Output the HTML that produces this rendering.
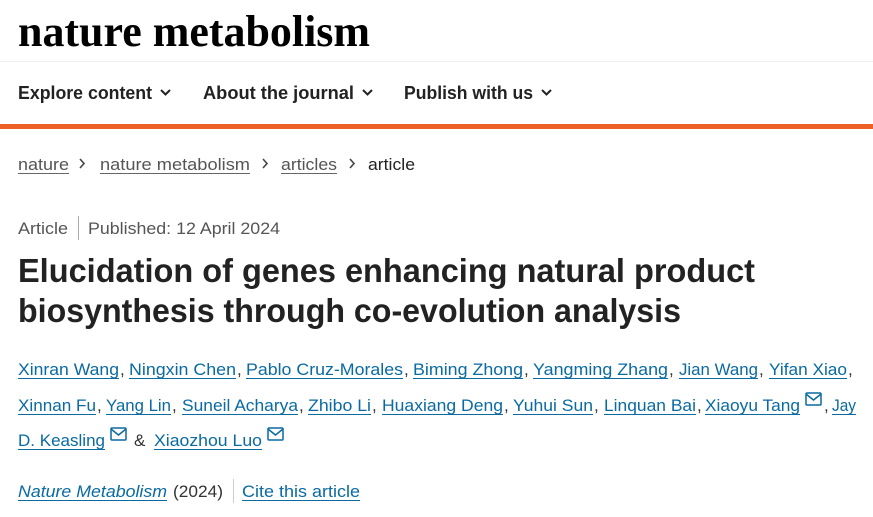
<!DOCTYPE html>
<html><head><meta charset="utf-8"><style>
html,body{margin:0;padding:0;background:#fff;width:873px;height:517px;overflow:hidden}
svg{display:block}
.s{font-family:"Liberation Sans",sans-serif}
.lk{fill:#0a6aa1;font-size:17px}
.gr{fill:#333;font-size:17px}
</style></head><body>
<svg width="873" height="517" viewBox="0 0 873 517" xmlns="http://www.w3.org/2000/svg">
<rect width="873" height="517" fill="#fff"/>
<text x="18" y="46" font-family="Liberation Serif,serif" font-weight="bold" font-size="44" fill="#000" textLength="352" lengthAdjust="spacingAndGlyphs">nature metabolism</text>
<line x1="0" y1="61.5" x2="873" y2="61.5" stroke="#eee"/>
<g class="s" font-weight="bold" font-size="18" fill="#222">
<text x="18" y="99" textLength="134" lengthAdjust="spacingAndGlyphs">Explore content</text>
<text x="203" y="99" textLength="151" lengthAdjust="spacingAndGlyphs">About the journal</text>
<text x="404" y="99" textLength="129" lengthAdjust="spacingAndGlyphs">Publish with us</text>
</g>
<g fill="none" stroke="#222" stroke-width="2">
<polyline points="161,90 165.5,94.5 170,90"/>
<polyline points="363,90 367.5,94.5 372,90"/>
<polyline points="542,90 546.5,94.5 551,90"/>
</g>
<rect x="0" y="124" width="873" height="5" fill="#ee6025"/>
<g class="s" font-size="17">
<text x="18" y="170" fill="#555" textLength="51" lengthAdjust="spacingAndGlyphs">nature</text>
<text x="100" y="170" fill="#555" textLength="150" lengthAdjust="spacingAndGlyphs">nature metabolism</text>
<text x="281" y="170" fill="#555" textLength="56" lengthAdjust="spacingAndGlyphs">articles</text>
<text x="368" y="170" fill="#222" textLength="47" lengthAdjust="spacingAndGlyphs">article</text>
</g>
<g stroke="#666" stroke-width="1">
<line x1="18" y1="173.5" x2="69" y2="173.5"/><line x1="100" y1="173.5" x2="250" y2="173.5"/><line x1="281" y1="173.5" x2="337" y2="173.5"/>
</g>
<g fill="none" stroke="#444" stroke-width="1.6">
<polyline points="80,159 84,163.5 80,168"/><polyline points="263,159 267,163.5 263,168"/><polyline points="350,159 354,163.5 350,168"/>
</g>
<g class="s" font-size="17" fill="#555">
<text x="18" y="234" textLength="50" lengthAdjust="spacingAndGlyphs">Article</text>
<text x="88" y="234" textLength="192" lengthAdjust="spacingAndGlyphs">Published: 12 April 2024</text>
</g>
<line x1="78.5" y1="216" x2="78.5" y2="240" stroke="#aaa"/>
<g class="s" font-weight="bold" font-size="33" fill="#222">
<text x="18" y="282" textLength="737" lengthAdjust="spacingAndGlyphs">Elucidation of genes enhancing natural product</text>
<text x="18" y="322" textLength="663" lengthAdjust="spacingAndGlyphs">biosynthesis through co-evolution analysis</text>
</g>
<g class="s">
<!-- line 1 -->
<text class="lk" x="18" y="375" textLength="101" lengthAdjust="spacingAndGlyphs">Xinran Wang</text><text class="gr" x="120" y="375">,</text>
<text class="lk" x="129" y="375" textLength="107" lengthAdjust="spacingAndGlyphs">Ningxin Chen</text><text class="gr" x="237" y="375">,</text>
<text class="lk" x="246" y="375" textLength="157" lengthAdjust="spacingAndGlyphs">Pablo Cruz-Morales</text><text class="gr" x="404" y="375">,</text>
<text class="lk" x="413" y="375" textLength="110" lengthAdjust="spacingAndGlyphs">Biming Zhong</text><text class="gr" x="524" y="375">,</text>
<text class="lk" x="533" y="375" textLength="135" lengthAdjust="spacingAndGlyphs">Yangming Zhang</text><text class="gr" x="669" y="375">,</text>
<text class="lk" x="679" y="375" textLength="79" lengthAdjust="spacingAndGlyphs">Jian Wang</text><text class="gr" x="759" y="375">,</text>
<text class="lk" x="769" y="375" textLength="78" lengthAdjust="spacingAndGlyphs">Yifan Xiao</text><text class="gr" x="848" y="375">,</text>
<!-- line 2 -->
<text class="lk" x="18" y="411" textLength="78" lengthAdjust="spacingAndGlyphs">Xinnan Fu</text><text class="gr" x="97" y="411">,</text>
<text class="lk" x="106" y="411" textLength="65" lengthAdjust="spacingAndGlyphs">Yang Lin</text><text class="gr" x="172" y="411">,</text>
<text class="lk" x="182" y="411" textLength="116" lengthAdjust="spacingAndGlyphs">Suneil Acharya</text><text class="gr" x="299" y="411">,</text>
<text class="lk" x="308" y="411" textLength="63" lengthAdjust="spacingAndGlyphs">Zhibo Li</text><text class="gr" x="372" y="411">,</text>
<text class="lk" x="382" y="411" textLength="121" lengthAdjust="spacingAndGlyphs">Huaxiang Deng</text><text class="gr" x="504" y="411">,</text>
<text class="lk" x="513" y="411" textLength="80" lengthAdjust="spacingAndGlyphs">Yuhui Sun</text><text class="gr" x="594" y="411">,</text>
<text class="lk" x="604" y="411" textLength="92" lengthAdjust="spacingAndGlyphs">Linquan Bai</text><text class="gr" x="697" y="411">,</text>
<text class="lk" x="705" y="411" textLength="95" lengthAdjust="spacingAndGlyphs">Xiaoyu Tang</text><text class="gr" x="824" y="411">,</text>
<text class="lk" x="832" y="411" textLength="24" lengthAdjust="spacingAndGlyphs">Jay</text>
<!-- line 3 -->
<text class="lk" x="18" y="446" textLength="87" lengthAdjust="spacingAndGlyphs">D. Keasling</text>
<text class="gr" x="134" y="446">&amp;</text>
<text class="lk" x="154" y="446" textLength="108" lengthAdjust="spacingAndGlyphs">Xiaozhou Luo</text>
</g>
<g stroke="#0a6aa1" stroke-width="1">
<line x1="18" y1="378.5" x2="119" y2="378.5"/><line x1="129" y1="378.5" x2="236" y2="378.5"/><line x1="246" y1="378.5" x2="403" y2="378.5"/><line x1="413" y1="378.5" x2="523" y2="378.5"/><line x1="533" y1="378.5" x2="668" y2="378.5"/><line x1="679" y1="378.5" x2="758" y2="378.5"/><line x1="769" y1="378.5" x2="847" y2="378.5"/>
<line x1="18" y1="414.5" x2="96" y2="414.5"/><line x1="106" y1="414.5" x2="171" y2="414.5"/><line x1="182" y1="414.5" x2="298" y2="414.5"/><line x1="308" y1="414.5" x2="371" y2="414.5"/><line x1="382" y1="414.5" x2="503" y2="414.5"/><line x1="513" y1="414.5" x2="593" y2="414.5"/><line x1="604" y1="414.5" x2="696" y2="414.5"/><line x1="705" y1="414.5" x2="800" y2="414.5"/><line x1="832" y1="414.5" x2="856" y2="414.5"/>
<line x1="18" y1="449.5" x2="105" y2="449.5"/><line x1="154" y1="449.5" x2="262" y2="449.5"/>
</g>
<g fill="none" stroke="#0a6aa1" stroke-width="1.5">
<rect x="806" y="393" width="15" height="12" rx="1"/><polyline points="806,394 813.5,400 821,394"/>
<rect x="111" y="428" width="15" height="12" rx="1"/><polyline points="111,429 118.5,435 126,429"/>
<rect x="268" y="428" width="15" height="12" rx="1"/><polyline points="268,429 275.5,435 283,429"/>
</g>
<g class="s" font-size="17">
<text x="18" y="497" fill="#0a6aa1" font-style="italic" textLength="149" lengthAdjust="spacingAndGlyphs">Nature Metabolism</text>
<text x="173" y="497" fill="#333" textLength="50" lengthAdjust="spacingAndGlyphs">(2024)</text>
<text x="242" y="497" fill="#0a6aa1" textLength="118" lengthAdjust="spacingAndGlyphs">Cite this article</text>
</g>
<line x1="233.5" y1="479" x2="233.5" y2="503" stroke="#ccc"/>
<g stroke="#0a6aa1"><line x1="18" y1="500.5" x2="167" y2="500.5"/><line x1="242" y1="500.5" x2="360" y2="500.5"/></g>
</svg>
</body></html>
